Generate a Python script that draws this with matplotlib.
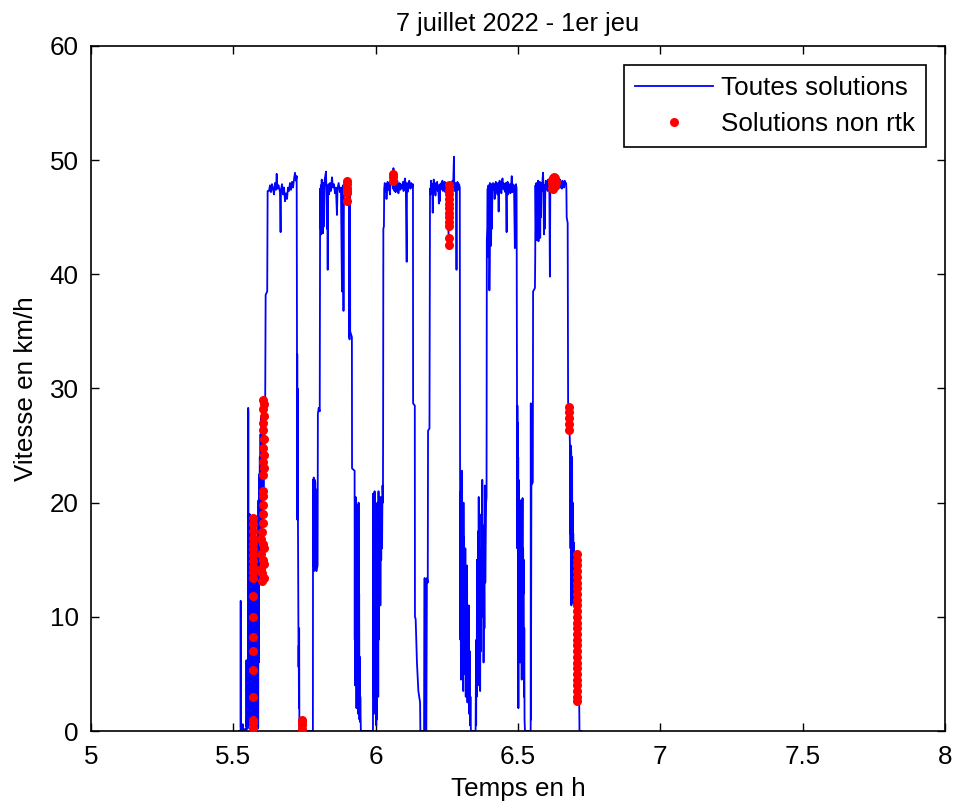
import numpy as np
import matplotlib
matplotlib.use("Agg")
import matplotlib.pyplot as plt

# ---------------- Data (time in hours, speed in km/h) ----------------
depart = [(5.5200, 0.0), (5.5255, 0.0), (5.5259, 11.4), (5.5263, 0.3), (5.5300, 0.0), (5.5330, 0.6),
          (5.5345, 0.0), (5.5420, 0.2), (5.5455, 0.0), (5.5460, 6.2), (5.5466, 0.4), (5.5480, 1.5),
          (5.5495, 0.2), (5.5505, 5.0), (5.5515, 0.3), (5.5522, 28.3), (5.5528, 27.9), (5.5534, 0.5),
          (5.5540, 18.6), (5.5546, 2.0), (5.5552, 15.2), (5.5558, 0.6), (5.5564, 17.3), (5.5570, 3.1),
          (5.5576, 19.0), (5.5582, 6.0), (5.5588, 14.1), (5.5594, 0.8), (5.5600, 16.4), (5.5606, 0.4),
          (5.5612, 12.2), (5.5618, 1.1), (5.5624, 18.2), (5.5630, 8.3), (5.5636, 0.5), (5.5642, 16.0),
          (5.5648, 10.0), (5.5654, 0.3), (5.5660, 17.5), (5.5666, 5.2), (5.5672, 13.8), (5.5678, 0.9),
          (5.5684, 18.7), (5.5690, 11.8), (5.5696, 0.3), (5.5702, 16.6), (5.5708, 7.0), (5.5714, 15.4),
          (5.5720, 0.6), (5.5730, 14.2), (5.5740, 2.8), (5.5750, 17.8), (5.5760, 1.2), (5.5770, 13.0),
          (5.5780, 0.5), (5.5790, 16.2), (5.5800, 3.5), (5.5810, 15.0), (5.5820, 0.4), (5.5830, 12.5),
          (5.5840, 1.0), (5.5850, 9.0), (5.5860, 0.2), (5.5875, 0.3), (5.5882, 20.2), (5.5890, 6.0),
          (5.5898, 21.0), (5.5906, 13.5), (5.5914, 22.5), (5.5922, 16.0), (5.5930, 24.0), (5.5940, 14.5),
          (5.5955, 26.0), (5.5970, 17.0), (5.5985, 27.5), (5.6000, 15.0), (5.6015, 28.4), (5.6030, 19.5),
          (5.6045, 29.0), (5.6060, 21.0), (5.6075, 28.8), (5.6090, 25.0), (5.6105, 29.0), (5.6120, 29.2),
          (5.6135, 38.2), (5.6190, 38.5), (5.6205, 47.3)]

plateau_1 = [(5.6253, 47.3), (5.6288, 47.8), (5.6323, 47.2), (5.6358, 47.9), (5.6393, 47.5), (5.6428, 47.0),
             (5.6464, 48.0), (5.6499, 47.4), (5.6523, 48.8), (5.6550, 47.5), (5.6586, 47.8), (5.6639, 47.2),
             (5.6660, 43.7), (5.6674, 47.4), (5.6710, 47.9), (5.6745, 47.0), (5.6780, 47.6), (5.6815, 46.4),
             (5.6850, 47.1), (5.6885, 46.6), (5.6920, 47.6), (5.6956, 47.3), (5.6990, 48.0), (5.7026, 47.4),
             (5.7061, 48.1), (5.7096, 47.6), (5.7131, 48.3), (5.7166, 48.9), (5.7201, 48.2), (5.7225, 48.6)]

descente_1 = [(5.7235, 35.8), (5.7240, 19.0), (5.7245, 33.0), (5.7250, 18.5), (5.7255, 30.0), (5.7260, 19.5),
              (5.7265, 25.0), (5.7270, 18.6), (5.7278, 14.0), (5.7285, 10.0), (5.7292, 5.6), (5.7298, 7.5),
              (5.7305, 2.0), (5.7312, 9.0), (5.7320, 0.5), (5.7335, 0.0), (5.7410, 0.3), (5.7420, 0.0),
              (5.7795, 0.0)]

montee_2 = [(5.7800, 22.0), (5.7806, 14.5), (5.7812, 21.5), (5.7818, 15.0), (5.7824, 22.2), (5.7830, 14.0),
            (5.7836, 21.0), (5.7842, 16.0), (5.7848, 20.5), (5.7854, 15.5), (5.7860, 22.0), (5.7868, 14.5),
            (5.7876, 21.8), (5.7884, 15.2), (5.7892, 21.2), (5.7900, 14.2), (5.7920, 14.0), (5.7960, 14.5),
            (5.7970, 27.8), (5.8000, 28.3), (5.8035, 28.0), (5.8050, 47.5)]

plateau_2 = [(5.8060, 44.0), (5.8075, 47.8), (5.8090, 43.5), (5.8105, 48.3), (5.8120, 44.5), (5.8135, 47.5),
             (5.8150, 43.6), (5.8165, 48.0), (5.8180, 44.2), (5.8195, 47.2), (5.8210, 48.3), (5.8255, 49.0),
             (5.8270, 47.5), (5.8290, 44.0), (5.8305, 47.0), (5.8315, 40.4), (5.8325, 47.5), (5.8345, 47.9),
             (5.8365, 47.0), (5.8394, 48.0), (5.8430, 47.3), (5.8465, 48.5), (5.8500, 47.6), (5.8535, 47.9),
             (5.8570, 47.1), (5.8605, 47.6), (5.8640, 45.2), (5.8660, 47.5), (5.8700, 48.0), (5.8740, 47.2),
             (5.8780, 47.6), (5.8816, 38.5), (5.8830, 47.5), (5.8850, 47.8), (5.8870, 36.8), (5.8885, 47.3),
             (5.8920, 48.2), (5.8960, 47.9), (5.9000, 47.6), (5.9030, 48.0), (5.9060, 47.5)]

descente_2 = [(5.9070, 34.5), (5.9085, 34.3), (5.9090, 47.6), (5.9100, 47.2), (5.9105, 35.0), (5.9165, 34.5),
              (5.9170, 23.0), (5.9260, 22.8), (5.9266, 8.0), (5.9272, 20.0), (5.9278, 4.0), (5.9284, 17.0),
              (5.9290, 6.0), (5.9296, 20.5), (5.9302, 9.0), (5.9308, 15.0), (5.9314, 4.5), (5.9320, 12.0),
              (5.9326, 2.0), (5.9332, 18.0), (5.9338, 5.0), (5.9344, 14.0), (5.9350, 3.0), (5.9356, 19.8),
              (5.9362, 7.5), (5.9368, 16.2), (5.9374, 4.0), (5.9380, 10.5), (5.9390, 1.5), (5.9400, 20.0),
              (5.9410, 5.5), (5.9420, 12.0), (5.9430, 1.0), (5.9440, 6.5), (5.9450, 0.8), (5.9460, 3.0),
              (5.9480, 0.0), (5.9905, 0.0)]

montee_3 = [(5.9915, 20.8), (5.9922, 3.0), (5.9930, 15.0), (5.9938, 1.5), (5.9946, 18.0), (5.9954, 6.0),
            (5.9962, 21.0), (5.9970, 9.0), (5.9980, 2.0), (5.9990, 16.5), (6.0000, 4.0), (6.0010, 12.0),
            (6.0020, 0.5), (6.0030, 10.0), (6.0045, 1.0), (6.0060, 20.0), (6.0070, 5.5), (6.0080, 15.5),
            (6.0090, 3.0), (6.0100, 21.0), (6.0110, 8.0), (6.0120, 19.0), (6.0135, 13.0), (6.0150, 20.5),
            (6.0165, 11.0), (6.0180, 18.0), (6.0195, 15.0), (6.0210, 20.5), (6.0225, 16.0), (6.0240, 21.5),
            (6.0255, 20.0), (6.0262, 27.0), (6.0270, 44.0), (6.0290, 44.2), (6.0300, 47.5)]

plateau_3 = [(6.0320, 48.0), (6.0340, 47.2), (6.0360, 47.9), (6.0380, 46.6), (6.0400, 47.5), (6.0420, 48.1),
             (6.0440, 47.4), (6.0460, 48.0), (6.0480, 47.6), (6.0500, 47.0), (6.0520, 47.8), (6.0545, 48.3),
             (6.0570, 48.8), (6.0590, 48.1), (6.0610, 47.5), (6.0625, 49.3), (6.0640, 47.8), (6.0660, 47.3),
             (6.0680, 47.9), (6.0700, 47.2), (6.0720, 48.0), (6.0740, 47.5), (6.0760, 48.2), (6.0780, 47.6),
             (6.0800, 47.1), (6.0820, 47.8), (6.0840, 48.0), (6.0860, 47.4), (6.0880, 47.9), (6.0900, 47.5),
             (6.0935, 47.6), (6.0960, 48.1), (6.0980, 47.3), (6.1000, 47.9), (6.1030, 48.4), (6.1060, 47.6),
             (6.1090, 41.1), (6.1100, 48.0), (6.1120, 47.2), (6.1150, 47.8), (6.1180, 48.2), (6.1220, 47.5),
             (6.1250, 48.0), (6.1280, 47.6), (6.1310, 47.9)]

descente_3 = [(6.1315, 28.7), (6.1375, 28.5), (6.1380, 10.0), (6.1405, 9.8), (6.1450, 6.0), (6.1500, 3.5),
              (6.1560, 2.5), (6.1570, 0.0), (6.1700, 0.0), (6.1720, 13.4), (6.1730, 0.5), (6.1780, 0.0),
              (6.1800, 13.4), (6.1830, 13.0), (6.1840, 26.3), (6.1890, 26.5), (6.1910, 47.5)]

plateau_4 = [(6.1925, 47.0), (6.1945, 48.2), (6.1965, 47.4), (6.1985, 47.9), (6.2005, 45.4), (6.2020, 47.6),
             (6.2040, 48.3), (6.2060, 47.2), (6.2080, 47.8), (6.2100, 46.9), (6.2120, 48.0), (6.2140, 47.5),
             (6.2160, 48.1), (6.2180, 47.3), (6.2200, 47.8), (6.2220, 46.2), (6.2235, 47.5), (6.2250, 46.4),
             (6.2265, 47.9), (6.2285, 47.4), (6.2305, 48.0), (6.2325, 47.6), (6.2345, 48.2), (6.2365, 47.3),
             (6.2385, 47.9), (6.2405, 47.5), (6.2425, 48.1), (6.2445, 47.2), (6.2465, 47.8), (6.2485, 47.6),
             (6.2500, 47.5), (6.2530, 45.5), (6.2560, 43.5), (6.2590, 46.0), (6.2620, 44.5), (6.2650, 47.0),
             (6.2680, 47.8), (6.2700, 48.2), (6.2720, 47.6), (6.2750, 50.3), (6.2760, 47.9), (6.2780, 47.3),
             (6.2800, 48.0), (6.2820, 47.5), (6.2840, 40.4), (6.2855, 47.6), (6.2875, 48.1), (6.2900, 47.4),
             (6.2930, 47.9), (6.2955, 47.6)]

descente_4 = [(6.2965, 22.5), (6.2975, 8.0), (6.2985, 21.0), (6.2995, 4.5), (6.3005, 17.5), (6.3015, 11.0),
              (6.3025, 22.8), (6.3035, 6.0), (6.3045, 19.0), (6.3055, 9.5), (6.3065, 15.0), (6.3075, 3.5),
              (6.3085, 20.0), (6.3095, 12.5), (6.3105, 17.0), (6.3115, 5.0), (6.3125, 13.0), (6.3135, 8.0),
              (6.3150, 16.0), (6.3165, 3.0), (6.3180, 12.0), (6.3195, 5.5), (6.3210, 14.5), (6.3225, 2.5),
              (6.3240, 9.0), (6.3255, 4.0), (6.3270, 11.0), (6.3285, 1.5), (6.3300, 7.0), (6.3315, 0.5),
              (6.3330, 3.0), (6.3345, 0.0), (6.3510, 0.0), (6.3520, 4.0), (6.3530, 0.5), (6.3540, 8.0),
              (6.3550, 3.0), (6.3560, 15.0), (6.3570, 6.0), (6.3580, 12.0), (6.3590, 4.0), (6.3600, 17.5),
              (6.3610, 9.0), (6.3620, 20.5), (6.3630, 13.0), (6.3640, 16.0), (6.3650, 5.0), (6.3660, 11.0),
              (6.3670, 3.5), (6.3685, 14.0), (6.3700, 7.0), (6.3715, 19.0), (6.3730, 10.0), (6.3745, 22.0),
              (6.3760, 12.0), (6.3775, 18.0), (6.3790, 6.0), (6.3805, 15.5), (6.3820, 9.0), (6.3835, 21.5),
              (6.3850, 13.0), (6.3865, 17.0), (6.3880, 20.0), (6.3895, 20.5), (6.3905, 43.0), (6.3920, 44.0),
              (6.3935, 47.5)]

plateau_5 = [(6.3950, 41.5), (6.3962, 47.8), (6.3975, 42.0), (6.3988, 47.5), (6.3995, 38.6), (6.4005, 41.8),
             (6.4012, 48.0), (6.4025, 43.0), (6.4040, 47.6), (6.4055, 42.5), (6.4070, 47.9), (6.4085, 44.0),
             (6.4100, 47.3), (6.4120, 48.0), (6.4140, 47.4), (6.4160, 47.9), (6.4180, 46.6), (6.4200, 47.6),
             (6.4220, 48.1), (6.4240, 47.2), (6.4260, 47.8), (6.4280, 47.0), (6.4300, 48.0), (6.4320, 45.5),
             (6.4335, 47.6), (6.4355, 48.2), (6.4375, 47.3), (6.4395, 47.8), (6.4415, 47.1), (6.4435, 47.9),
             (6.4455, 48.4), (6.4475, 47.5), (6.4495, 48.0), (6.4515, 47.4), (6.4535, 47.9), (6.4555, 47.2),
             (6.4575, 48.0), (6.4600, 43.7), (6.4615, 47.5), (6.4635, 48.1), (6.4655, 47.0), (6.4675, 47.7),
             (6.4695, 47.3), (6.4715, 47.9), (6.4735, 47.1), (6.4755, 47.6), (6.4780, 48.6), (6.4800, 47.2),
             (6.4820, 47.9), (6.4840, 47.4), (6.4860, 47.8), (6.4890, 42.3), (6.4905, 47.6), (6.4930, 47.9),
             (6.4950, 47.5)]

descente_5 = [(6.4965, 29.3), (6.4972, 16.0), (6.4979, 28.5), (6.4986, 18.0), (6.4993, 27.0), (6.5000, 15.8),
              (6.5007, 24.0), (6.5014, 2.0), (6.5021, 22.0), (6.5028, 16.5), (6.5035, 20.4), (6.5042, 14.8),
              (6.5050, 19.5), (6.5058, 15.5), (6.5066, 20.0), (6.5074, 6.0), (6.5082, 18.5), (6.5090, 14.9),
              (6.5100, 20.2), (6.5110, 15.0), (6.5120, 19.0), (6.5130, 4.5), (6.5140, 17.0), (6.5150, 15.2),
              (6.5160, 20.4), (6.5170, 8.0), (6.5180, 16.0), (6.5190, 12.0), (6.5200, 15.0), (6.5210, 3.0),
              (6.5220, 9.0), (6.5230, 1.0), (6.5245, 0.0), (6.5445, 0.0), (6.5450, 28.7), (6.5455, 1.0),
              (6.5470, 21.5), (6.5520, 21.8), (6.5530, 38.5), (6.5595, 38.8), (6.5605, 41.5), (6.5615, 47.8)]

plateau_6 = [(6.5630, 44.0), (6.5645, 48.0), (6.5660, 43.0), (6.5675, 47.8), (6.5690, 43.5), (6.5705, 48.2),
             (6.5720, 42.9), (6.5735, 47.6), (6.5750, 44.5), (6.5765, 48.1), (6.5780, 43.2), (6.5795, 47.7),
             (6.5810, 45.0), (6.5825, 48.0), (6.5845, 47.3), (6.5865, 48.4), (6.5880, 48.9), (6.5895, 47.5),
             (6.5910, 43.5), (6.5925, 47.8), (6.5945, 44.0), (6.5960, 47.6), (6.5980, 48.2), (6.6000, 47.5),
             (6.6020, 48.0), (6.6040, 47.3), (6.6060, 48.3), (6.6080, 47.6), (6.6100, 48.1), (6.6120, 39.8),
             (6.6135, 47.5), (6.6155, 48.2), (6.6175, 47.6), (6.6195, 48.0), (6.6215, 47.4), (6.6235, 48.3),
             (6.6255, 47.7), (6.6275, 48.2), (6.6295, 47.5), (6.6315, 48.0), (6.6335, 47.6), (6.6355, 48.4),
             (6.6375, 47.8), (6.6400, 48.1), (6.6420, 47.5), (6.6440, 48.0), (6.6460, 47.7), (6.6480, 48.3),
             (6.6500, 47.6), (6.6520, 48.0), (6.6540, 47.5), (6.6560, 48.2), (6.6580, 47.7), (6.6600, 48.1),
             (6.6620, 47.6), (6.6640, 48.2), (6.6660, 47.9), (6.6690, 48.0)]

descente_6 = [(6.6700, 47.5), (6.6710, 45.0), (6.6745, 44.5), (6.6760, 28.8), (6.6790, 28.0), (6.6810, 26.5),
              (6.6825, 25.1), (6.6832, 17.3), (6.6838, 24.8), (6.6845, 16.0), (6.6852, 25.0), (6.6860, 12.0),
              (6.6868, 24.5), (6.6876, 11.0), (6.6884, 23.0), (6.6892, 15.0), (6.6900, 24.0), (6.6910, 11.5),
              (6.6920, 20.0), (6.6930, 12.0), (6.6940, 17.3), (6.6950, 11.2), (6.6960, 16.5), (6.6970, 10.9),
              (6.6980, 15.6), (6.6990, 12.0), (6.7000, 15.5), (6.7010, 8.0), (6.7020, 13.0), (6.7030, 5.0),
              (6.7040, 10.0), (6.7050, 3.0), (6.7060, 7.5), (6.7070, 2.5), (6.7080, 5.0), (6.7090, 2.4),
              (6.7120, 3.0), (6.7150, 2.5), (6.7160, 0.0), (6.7230, 0.0)]

# non-RTK solutions (red dots)
non_rtk_1 = [(5.5695, 0.3), (5.5698, 0.7), (5.5700, 1.0), (5.5696, 3.0), (5.5694, 5.3), (5.5697, 7.0),
             (5.5699, 8.2), (5.5696, 10.0), (5.5700, 11.8), (5.5693, 13.4), (5.5698, 13.9), (5.5702, 14.4),
             (5.5695, 14.9), (5.5700, 15.4), (5.5704, 15.9), (5.5696, 16.4), (5.5701, 16.9), (5.5694, 17.5),
             (5.5699, 18.1), (5.5696, 18.7)]
non_rtk_2 = [(5.6058, 29.0), (5.6060, 28.6), (5.6057, 28.2), (5.6061, 27.6), (5.6056, 27.0), (5.6059, 26.4),
             (5.6062, 25.6), (5.6057, 24.8), (5.6060, 24.2), (5.6058, 23.6), (5.6062, 23.0), (5.6056, 22.4),
             (5.6045, 21.0), (5.6040, 20.6), (5.6038, 19.8), (5.6043, 19.0), (5.6036, 18.2), (5.6000, 17.4),
             (5.5960, 16.8), (5.6040, 16.4), (5.6080, 16.0), (5.5975, 15.5), (5.6030, 15.0), (5.6085, 14.6),
             (5.5960, 14.2), (5.6015, 13.8), (5.6070, 13.4), (5.5990, 13.1)]
non_rtk_3 = [(5.7405, 0.2), (5.7408, 0.5), (5.7403, 0.8), (5.7406, 1.0)]
non_rtk_4 = [(5.9005, 48.2), (5.9005, 47.9), (5.9005, 47.6), (5.9005, 47.3), (5.9005, 47.1), (5.9005, 46.4)]
non_rtk_5 = [(6.0595, 48.8), (6.0597, 48.5), (6.0593, 48.2)]
non_rtk_6 = [(6.2580, 47.8), (6.2580, 47.4), (6.2582, 47.0), (6.2580, 46.6), (6.2579, 46.2), (6.2581, 45.8),
             (6.2580, 45.4), (6.2579, 45.0), (6.2580, 44.6), (6.2581, 44.2), (6.2580, 43.2), (6.2580, 42.6)]
non_rtk_7 = [(6.6185, 47.6), (6.6195, 48.0), (6.6205, 48.3), (6.6215, 47.8), (6.6225, 48.4), (6.6235, 48.1),
             (6.6245, 47.5), (6.6255, 48.2), (6.6265, 48.5), (6.6275, 47.9), (6.6285, 48.3), (6.6295, 47.7),
             (6.6305, 48.0), (6.6315, 48.4), (6.6325, 48.1)]
non_rtk_8 = [(6.6805, 26.4), (6.6806, 26.9), (6.6805, 27.4), (6.6807, 27.9), (6.6805, 28.4)]
non_rtk_9 = [(6.7070, 15.5), (6.7072, 15.0), (6.7069, 14.5), (6.7073, 14.0), (6.7070, 13.5), (6.7068, 13.0),
             (6.7072, 12.5), (6.7070, 12.0), (6.7074, 11.5), (6.7069, 11.0), (6.7071, 10.5), (6.7068, 10.0),
             (6.7072, 9.5), (6.7070, 9.0), (6.7066, 8.5), (6.7070, 8.0), (6.7066, 7.5), (6.7069, 7.0),
             (6.7065, 6.5), (6.7068, 6.0), (6.7066, 5.5), (6.7069, 5.0), (6.7065, 4.5), (6.7068, 4.0),
             (6.7066, 3.5), (6.7069, 3.0), (6.7067, 2.6)]

x_ticks = [5, 5.5, 6, 6.5, 7, 7.5, 8]
x_tick_labels = ["5", "5.5", "6", "6.5", "7", "7.5", "8"]
y_ticks = [0, 10, 20, 30, 40, 50, 60]

title_text = "7 juillet 2022 - 1er jeu"
x_label = "Temps en h"
y_label = "Vitesse en km/h"
legend_labels = ["Toutes solutions", "Solutions non rtk"]

# ---------------- Assemble ----------------
segments = [depart, plateau_1, descente_1, montee_2, plateau_2, descente_2, montee_3, plateau_3,
            descente_3, plateau_4, descente_4, plateau_5, descente_5, plateau_6, descente_6]
all_pts = np.array([p for seg in segments for p in seg])
t_all, v_all = all_pts[:, 0], all_pts[:, 1]

red_zones = [non_rtk_1, non_rtk_2, non_rtk_3, non_rtk_4, non_rtk_5, non_rtk_6, non_rtk_7, non_rtk_8, non_rtk_9]
red_pts = np.array([p for z in red_zones for p in z])

plt.rcParams['font.family'] = ['Liberation Sans', 'DejaVu Sans']
FS = 18.7

fig = plt.figure(figsize=(9.55, 8.05), dpi=100)
ax = fig.add_axes([91 / 955, 74 / 805, 854 / 955, 685 / 805])

ax.plot(t_all, v_all, color='#0000FF', lw=1.3, label=legend_labels[0], zorder=2)
ax.plot(red_pts[:, 0], red_pts[:, 1], linestyle='none', marker='o', ms=6.5, mfc='#FF0000', mec='#FF0000',
        mew=0, label=legend_labels[1], zorder=3)

ax.set_xlim(5, 8)
ax.set_ylim(0, 60)
ax.set_xticks(x_ticks)
ax.set_xticklabels(x_tick_labels)
ax.set_yticks(y_ticks)
ax.tick_params(direction='in', top=True, right=True, length=6, width=1.0, labelsize=FS, pad=10,
               colors='black')
ax.tick_params(axis='y', pad=9)
for s in ax.spines.values():
    s.set_linewidth(1.2)
    s.set_color('black')

ax.set_title(title_text, fontsize=18.3, pad=11)
ax.set_xlabel(x_label, fontsize=FS, labelpad=6)
ax.set_ylabel(y_label, fontsize=FS, labelpad=8)

leg = ax.legend(loc='upper right', fontsize=FS, frameon=True, fancybox=False, framealpha=1,
                edgecolor='black', handlelength=3.0, handletextpad=0.3, borderaxespad=0.75,
                labelspacing=0.45, borderpad=0.42, markerscale=1.0)
leg.get_frame().set_linewidth(1.2)

fig.savefig('out.png', dpi=100, facecolor='white')
